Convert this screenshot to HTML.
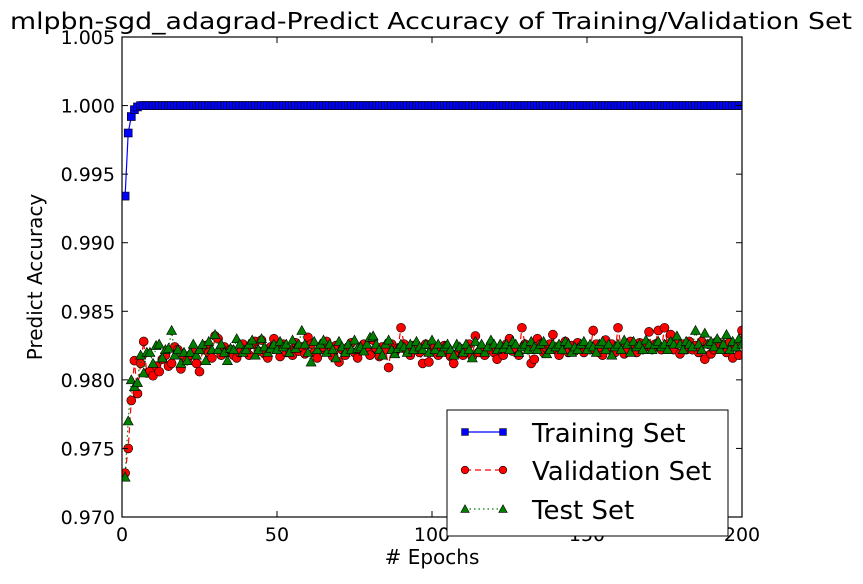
<!DOCTYPE html>
<html><head><meta charset="utf-8"><style>
body{margin:0;background:#fff;}
svg text{font-family:"DejaVu Sans","Liberation Sans",sans-serif;}
</style></head><body>
<svg id="chart" width="863" height="579" viewBox="0 0 863 579" xmlns="http://www.w3.org/2000/svg">
<rect width="863" height="579" fill="#fff"/>
<text x="431" y="29" font-size="23" text-anchor="middle" textLength="842" lengthAdjust="spacingAndGlyphs">mlpbn-sgd_adagrad-Predict Accuracy of Training/Validation Set</text>
<g id="series"></g>
<g id="axes"></g>
<text x="432" y="564" font-size="20" text-anchor="middle"># Epochs</text>
<text transform="translate(42,277) rotate(-90)" font-size="20" text-anchor="middle">Predict Accuracy</text>
</svg>
<script>
const trainHead=[0.9934,0.9980,0.9992,0.9997,0.9999];
const valAcc=[0.9732,0.9750,0.9785,0.9814,0.9790,0.9812,0.9828,0.9805,0.9806,0.9803,0.9810,0.9806,0.9815,0.9818,0.9810,0.9812,0.9824,0.9822,0.9808,0.9816,
0.9814,0.9818,0.9820,0.9812,0.9806,0.9822,0.9825,0.9820,0.9816,0.9832,0.9830,0.9818,0.9824,0.9820,0.9822,0.9818,0.9816,0.9820,0.9826,0.9822,
0.9818,0.9826,0.9828,0.9821,0.9829,0.9819,0.9816,0.9824,0.9830,0.9823,0.9817,0.9826,0.9820,0.9822,0.9818,0.9827,0.9821,0.9824,0.9819,0.9831,
0.9826,0.9820,0.9816,0.9822,0.9824,0.9828,0.9821,0.9817,0.9825,0.9813,0.9822,0.9818,0.9824,0.9827,0.9820,0.9816,0.9822,0.9826,0.9821,0.9818,
0.9829,0.9823,0.9817,0.9824,0.9822,0.9809,0.9826,0.9820,0.9823,0.9838,0.9826,0.9821,0.9818,0.9825,0.9822,0.9820,0.9812,0.9826,0.9813,0.9822,
0.9824,0.9818,0.9821,0.9825,0.9820,0.9817,0.9812,0.9819,0.9823,0.9818,0.9821,0.9826,0.9817,0.9832,0.9820,0.9823,0.9818,0.9822,0.9826,0.9820,
0.9815,0.9822,0.9818,0.9826,0.9830,0.9821,0.9823,0.9818,0.9838,0.9826,0.9822,0.9812,0.9815,0.9830,0.9826,0.9820,0.9823,0.9826,0.9833,0.9822,
0.9818,0.9822,0.9828,0.9820,0.9825,0.9821,0.9827,0.9824,0.9820,0.9823,0.9822,0.9836,0.9826,0.9820,0.9818,0.9829,0.9822,0.9826,0.9820,0.9838,
0.9824,0.9819,0.9822,0.9828,0.9823,0.9820,0.9827,0.9822,0.9826,0.9835,0.9822,0.9826,0.9836,0.9822,0.9838,0.9826,0.9833,0.9822,0.9826,0.9819,
0.9826,0.9822,0.9828,0.9822,0.9825,0.9820,0.9828,0.9815,0.9826,0.9819,
0.9822,0.9828,0.9824,0.9826,0.9820,0.9827,0.9816,0.9824,0.9818,0.9836];
const testAcc=[0.9729,0.9770,0.9800,0.9795,0.9798,0.9818,0.9805,0.9820,0.9820,0.9812,0.9825,0.9826,0.9816,0.9822,0.9823,0.9836,0.9818,0.9822,0.9812,0.9820,
0.9814,0.9820,0.9826,0.9818,0.9822,0.9826,0.9814,0.9828,0.9822,0.9833,0.9822,0.9826,0.9820,0.9814,0.9823,0.9822,0.9830,0.9826,0.9820,0.9822,
0.9826,0.9829,0.9818,0.9822,0.9830,0.9824,0.9820,0.9823,0.9826,0.9822,0.9828,0.9824,0.9826,0.9820,0.9829,0.9823,0.9826,0.9836,0.9826,0.9820,
0.9813,0.9828,0.9822,0.9826,0.9829,0.9820,0.9826,0.9822,0.9816,0.9828,0.9824,0.9820,0.9826,0.9822,0.9829,0.9823,0.9824,0.9821,0.9826,0.9831,
0.9832,0.9826,0.9822,0.9818,0.9826,0.9829,0.9822,0.9819,0.9823,0.9826,0.9824,0.9820,0.9826,0.9822,0.9828,0.9824,0.9822,0.9826,0.9820,0.9829,
0.9822,0.9826,0.9820,0.9824,0.9826,0.9822,0.9818,0.9826,0.9824,0.9820,0.9826,0.9822,0.9816,0.9828,0.9822,0.9826,0.9820,0.9824,0.9829,0.9826,
0.9822,0.9826,0.9823,0.9826,0.9822,0.9828,0.9826,0.9820,0.9824,0.9826,0.9822,0.9828,0.9824,0.9822,0.9826,0.9828,0.9819,0.9822,0.9826,0.9824,
0.9826,0.9822,0.9828,0.9826,0.9820,0.9824,0.9822,0.9826,0.9828,0.9822,0.9826,0.9824,0.9820,0.9826,0.9828,0.9822,0.9826,0.9818,0.9824,0.9826,
0.9822,0.9829,0.9826,0.9820,0.9828,0.9824,0.9826,0.9822,0.9829,0.9826,0.9822,0.9826,0.9828,0.9824,0.9826,0.9822,0.9828,0.9826,0.9832,0.9826,
0.9822,0.9828,0.9826,0.9824,0.9836,0.9826,0.9822,0.9834,0.9826,0.9828,
0.9824,0.9830,0.9822,0.9826,0.9833,0.9822,0.9828,0.9824,0.9830,0.9826];
const xTicks=[0,50,100,150,200];
const yTicks=[0.970,0.975,0.980,0.985,0.990,0.995,1.000,1.005];
const epochs=valAcc.length;
const trainAcc=[];for(let i=0;i<epochs;i++)trainAcc.push(i<trainHead.length?trainHead[i]:1.0);

const L=122,R=742,T=37,B=517;
const xs=v=>L+(v-0)/(200-0)*(R-L);
const ys=v=>B-(v-0.970)/(1.005-0.970)*(B-T);
const NS="http://www.w3.org/2000/svg";
const svg=document.getElementById('chart');
const sg=document.getElementById('series'), ag=document.getElementById('axes');
function mk(tag,attrs,parent){const e=document.createElementNS(NS,tag);for(const k in attrs)e.setAttribute(k,attrs[k]);parent.appendChild(e);return e;}

const clip=mk('clipPath',{id:'pc'},svg);mk('rect',{x:L,y:T,width:R-L,height:B-T},clip);
const plot=mk('g',{'clip-path':'url(#pc)'},sg);

function drawSeries(data,color,dash,marker,name){
  const g=mk('g',{},plot);
  
  
  const pts=data.map((v,i)=>xs(i+1).toFixed(1)+','+ys(v).toFixed(1)).join(' ');
  const pl=mk('polyline',{points:pts,fill:'none',stroke:color,'stroke-width':1.2,'stroke-dasharray':dash},g);
  
  
  data.forEach((v,i)=>{const m=drawMarker(marker,xs(i+1),ys(v),color,g,1);
    
    });
}
function drawMarker(type,x,y,color,g,s){
  if(type==='s')return mk('rect',{x:x-4*s,y:y-4*s,width:8*s,height:8*s,fill:color,stroke:'#000','stroke-width':0.6},g);
  if(type==='o')return mk('circle',{cx:x,cy:y,r:4.5*s,fill:color,stroke:'#000','stroke-width':0.6},g);
  return mk('polygon',{points:`${x},${y-5*s} ${x-5*s},${y+4*s} ${x+5*s},${y+4*s}`,fill:color,stroke:'#000','stroke-width':0.6},g);
}
drawSeries(trainAcc,'#0000ff','','s','training-series');
drawSeries(valAcc,'#ff0000','6,4','o','validation-series');
drawSeries(testAcc,'#007f00','1.5,3','t','test-series');

mk('rect',{x:L,y:T,width:R-L,height:B-T,fill:'none',stroke:'#000','stroke-width':1.2},ag);
xTicks.forEach(t=>{const x=xs(t);
  mk('line',{x1:x,y1:B,x2:x,y2:B-6,stroke:'#000'},ag);
  mk('line',{x1:x,y1:T,x2:x,y2:T+6,stroke:'#000'},ag);
  const tx=mk('text',{x:x,y:B+24,'font-size':19,'text-anchor':'middle'},ag);tx.textContent=t;
  
  });
yTicks.forEach(t=>{const y=ys(t);
  mk('line',{x1:L,y1:y,x2:L+6,y2:y,stroke:'#000'},ag);
  mk('line',{x1:R,y1:y,x2:R-6,y2:y,stroke:'#000'},ag);
  const tx=mk('text',{x:L-7,y:y+7,'font-size':19,'text-anchor':'end'},ag);tx.textContent=t.toFixed(3);
  
  });

// legend
const lg=mk('g',{},svg);


mk('rect',{x:447,y:410,width:281,height:126,fill:'#fff',stroke:'#000','stroke-width':1},lg);
[['Training Set','#0000ff','','s',432],['Validation Set','#ff0000','6,4','o',470],['Test Set','#007f00','1.5,3','t',509]].forEach(e=>{
  const eg=mk('g',{},lg);
  
  
  mk('line',{x1:465,y1:e[4],x2:503,y2:e[4],stroke:e[1],'stroke-width':1.2,'stroke-dasharray':e[2]},eg);
  drawMarker(e[3],465,e[4],e[1],eg,0.85);drawMarker(e[3],503,e[4],e[1],eg,0.85);
  const t=mk('text',{x:532,y:e[4]+10,'font-size':26},eg);t.textContent=e[0];
});
</script>
</body></html>
